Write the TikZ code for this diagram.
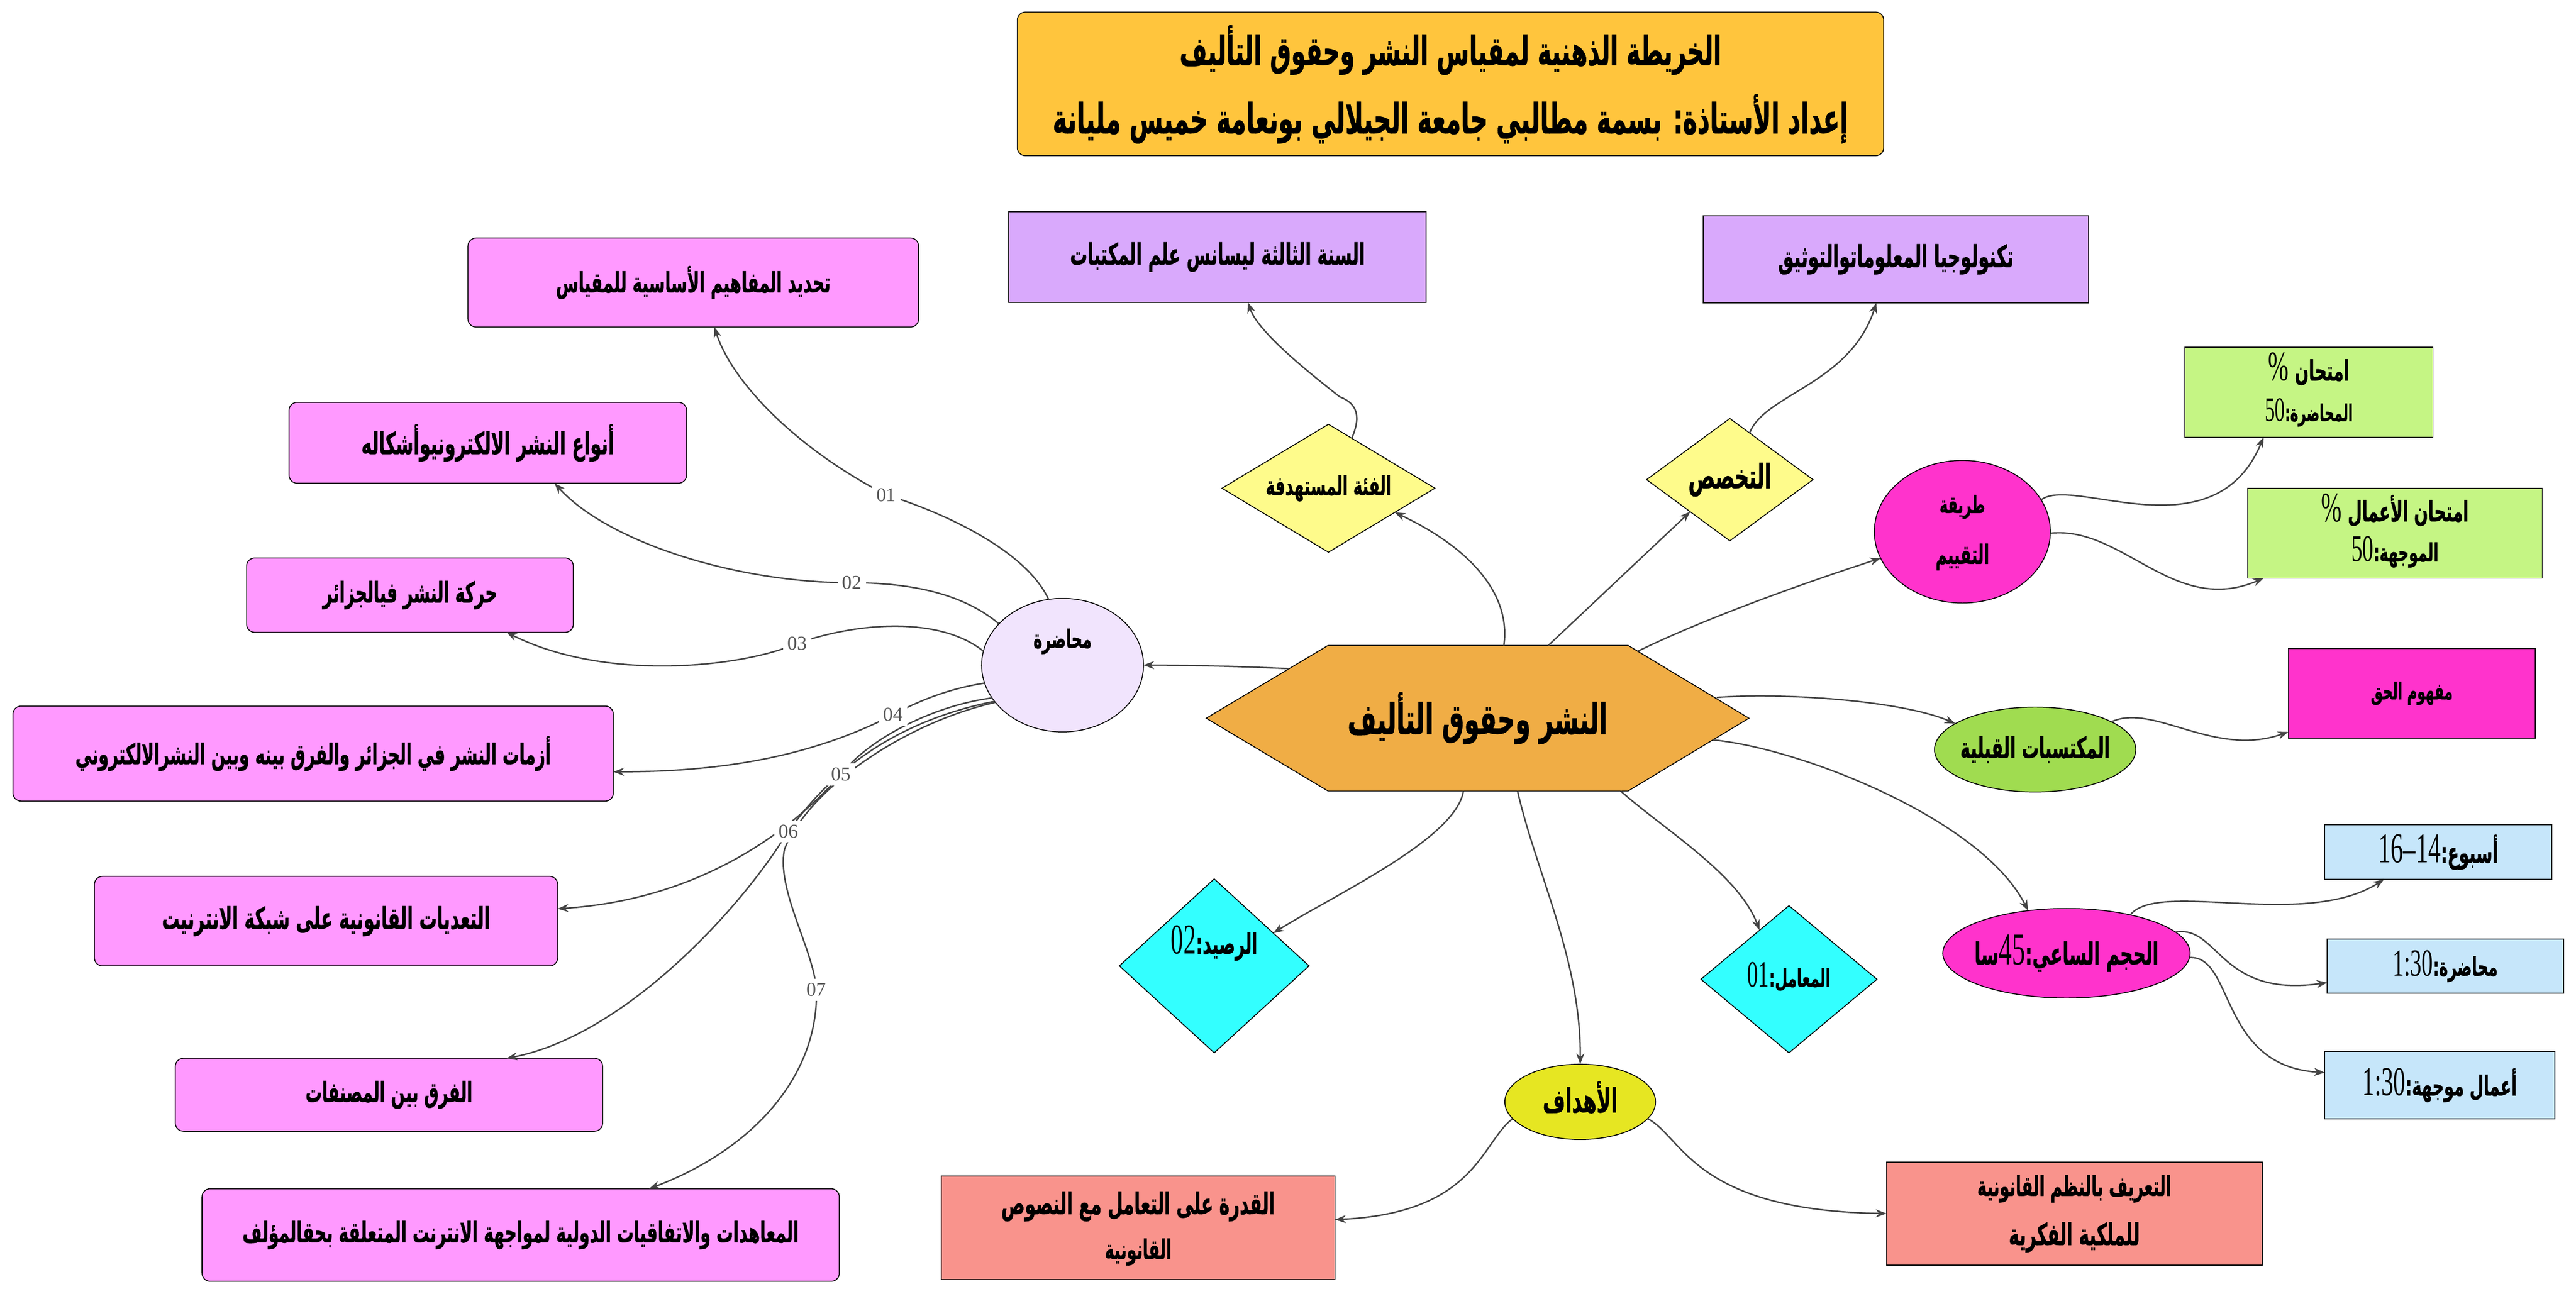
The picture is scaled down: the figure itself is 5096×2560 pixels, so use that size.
\documentclass[tikz,border=0pt]{standalone}
\usepackage{fontspec}
\usepackage{graphicx}
\TeXXeTstate=1
\newfontfamily\arfb[Script=Arabic,FakeBold=1.2]{DejaVu Sans Bold}
\newfontfamily\lat{Liberation Serif}
\usetikzlibrary{shapes.geometric,arrows.meta,backgrounds}
\definecolor{cTitle}{HTML}{FFC53D}
\definecolor{cPink}{HTML}{FF99FF}
\definecolor{cLav}{HTML}{F1E4FD}
\definecolor{cPurp}{HTML}{D9A9FC}
\definecolor{cYel}{HTML}{FEFB8B}
\definecolor{cHex}{HTML}{F0AD45}
\definecolor{cMag}{HTML}{FF33CC}
\definecolor{cGreen}{HTML}{A0DC50}
\definecolor{cLime}{HTML}{C5F584}
\definecolor{cBlue}{HTML}{C6E6FA}
\definecolor{cCyan}{HTML}{33FFFF}
\definecolor{cGold}{HTML}{E6E622}
\definecolor{cSalm}{HTML}{F9938C}
\definecolor{cEdge}{HTML}{444444}
\definecolor{cLab}{HTML}{555555}
\newcommand\AR[2]{\scalebox{1}[1.7]{\resizebox{#1}{!}{\arfb #2}}}
\newcommand\NUM[1]{\beginL\scalebox{1.5}{\lat #1}\endL}
\begin{document}
\begin{tikzpicture}[x=0.01cm,y=-0.01cm,
  base/.style={draw=black,line width=0.5pt,inner sep=0pt,outer sep=0pt},
  pinkbox/.style={base,rectangle,rounded corners=0.16cm,fill=cPink},
  sqbox/.style={base,rectangle},
  edge/.style={draw=cEdge,line width=0.8pt,-{Stealth[length=6pt,width=4.5pt]}},
  lab/.style={fill=white,inner sep=2.5pt,text=cLab,font={\lat\fontsize{11}{13}\selectfont}}]
\useasboundingbox (0,0) rectangle (5096,2560);

% central hexagon
\node[inner sep=0pt,outer sep=0pt,minimum width=10.73cm,minimum height=2.88cm] (hex) at (2923,1421) {\AR{5.14cm}{\beginR النشر وحقوق التأليف\endR}};
\begin{scope}[on background layer]
\fill[white] (0,0) rectangle (5096,2560);
\draw[line width=0.5pt,fill=cHex] (hex.west) -- ([xshift=2.41cm]hex.north west) -- ([xshift=-2.39cm]hex.north east) -- (hex.east) -- ([xshift=-2.39cm]hex.south east) -- ([xshift=2.41cm]hex.south west) -- cycle;
\end{scope}

% title
\node[base,rectangle,rounded corners=0.16cm,fill=cTitle,minimum width=17.13cm,minimum height=2.84cm,
  label={[yshift=0.67cm]center:{\AR{10.71cm}{\beginR الخريطة الذهنية لمقياس النشر وحقوق التأليف\endR}}},
  label={[yshift=-0.69cm]center:{\AR{15.73cm}{\beginR إعداد الأستاذة: بسمة مطالبي جامعة الجيلالي بونعامة خميس مليانة\endR}}}] (title) at (2869.5,166) {};

% left boxes
\node[pinkbox,minimum width=8.91cm,minimum height=1.76cm] (b1) at (1371.5,559) {\AR{5.43cm}{\beginR تحديد المفاهيم الأساسية للمقياس\endR}};
\node[pinkbox,minimum width=7.86cm,minimum height=1.60cm] (b2) at (965,876) {\AR{5.00cm}{\beginR أنواع النشر الالكترونيوأشكاله\endR}};
\node[pinkbox,minimum width=6.46cm,minimum height=1.47cm] (b3) at (811,1177.5) {\AR{3.45cm}{\beginR حركة النشر فيالجزائر\endR}};
\node[pinkbox,minimum width=11.87cm,minimum height=1.88cm] (b4) at (619.5,1491) {\AR{9.40cm}{\beginR أزمات النشر في الجزائر والفرق بينه وبين النشرالالكتروني\endR}};
\node[pinkbox,minimum width=9.16cm,minimum height=1.77cm] (b5) at (645,1822.5) {\AR{6.49cm}{\beginR التعديات القانونية على شبكة الانترنيت\endR}};
\node[pinkbox,minimum width=8.45cm,minimum height=1.44cm] (b6) at (769.5,2166) {\AR{3.30cm}{\beginR الفرق بين المصنفات\endR}};
\node[pinkbox,minimum width=12.60cm,minimum height=1.83cm] (b7) at (1030,2443.5) {\AR{11.00cm}{\beginR المعاهدات والاتفاقيات الدولية لمواجهة الانترنت المتعلقة بحقالمؤلف\endR}};

\node[base,ellipse,fill=cLav,minimum width=3.20cm,minimum height=2.64cm,
  label={[yshift=0.47cm]center:{\AR{1.15cm}{\beginR محاضرة\endR}}}] (muh) at (2102,1316) {};

% top
\node[sqbox,fill=cPurp,minimum width=8.25cm,minimum height=1.79cm] (sana) at (2408.5,508.5) {\AR{5.83cm}{\beginR السنة الثالثة ليسانس علم المكتبات\endR}};
\node[sqbox,fill=cPurp,minimum width=7.61cm,minimum height=1.72cm] (tech) at (3750.5,513) {\AR{4.66cm}{\beginR تكنولوجيا المعلوماتوالتوثيق\endR}};
\node[base,diamond,fill=cYel,minimum width=4.21cm,minimum height=2.53cm,
  label={center:{\AR{2.48cm}{\beginR الفئة المستهدفة\endR}}}] (fia) at (2628,966) {};
\node[base,diamond,fill=cYel,minimum width=3.29cm,minimum height=2.42cm,
  label={center:{\AR{1.64cm}{\beginR التخصص\endR}}}] (tak) at (3422,949) {};

% right
\node[base,ellipse,fill=cMag,minimum width=3.48cm,minimum height=2.82cm,
  label={[yshift=0.49cm]center:{\AR{0.90cm}{\beginR طريقة\endR}}},
  label={[yshift=-0.50cm]center:{\AR{1.06cm}{\beginR التقييم\endR}}}] (tar) at (3882,1052) {};
\node[sqbox,fill=cLime,minimum width=4.91cm,minimum height=1.78cm,
  label={[yshift=0.46cm]center:{\AR{1.60cm}{\beginR امتحان \NUM{\%}\endR}}},
  label={[yshift=-0.40cm]center:{\AR{1.74cm}{\beginR المحاضرة:\NUM{50}\endR}}}] (imt1) at (4567.5,776) {};
\node[sqbox,fill=cLime,minimum width=5.82cm,minimum height=1.78cm,
  label={[yshift=0.46cm]center:{\AR{2.91cm}{\beginR امتحان الأعمال \NUM{\%}\endR}}},
  label={[yshift=-0.37cm]center:{\AR{1.72cm}{\beginR الموجهة:\NUM{50}\endR}}}] (imt2) at (4738,1055) {};
\node[base,ellipse,fill=cGreen,minimum width=3.98cm,minimum height=1.68cm,
  label={center:{\AR{2.96cm}{\beginR المكتسبات القبلية\endR}}}] (muk) at (4026,1483) {};
\node[sqbox,fill=cMag,minimum width=4.88cm,minimum height=1.78cm] (maf) at (4771,1372) {\AR{1.62cm}{\beginR مفهوم الحق\endR}};
\node[base,ellipse,fill=cMag,minimum width=4.89cm,minimum height=1.77cm,
  label={center:{\AR{3.64cm}{\beginR الحجم الساعي:\NUM{45}سا\endR}}}] (haj) at (4088,1886) {};
\node[sqbox,fill=cBlue,minimum width=4.49cm,minimum height=1.08cm] (usbu) at (4823.5,1686) {\AR{2.37cm}{\beginR أسبوع:\NUM{16–14}\endR}};
\node[sqbox,fill=cBlue,minimum width=4.67cm,minimum height=1.07cm] (m130) at (4837.5,1911.5) {\AR{2.07cm}{\beginR محاضرة:\NUM{1:30}\endR}};
\node[sqbox,fill=cBlue,minimum width=4.55cm,minimum height=1.34cm] (amal) at (4826.5,2147) {\AR{3.05cm}{\beginR أعمال موجهة:\NUM{1:30}\endR}};

% bottom
\node[base,diamond,fill=cCyan,minimum width=3.75cm,minimum height=3.44cm,
  label={[yshift=0.45cm]center:{\AR{1.71cm}{\beginR الرصيد:\NUM{02}\endR}}}] (ras) at (2402,1911) {};
\node[base,diamond,fill=cCyan,minimum width=3.48cm,minimum height=2.91cm,
  label={[yshift=0.05cm]center:{\AR{1.64cm}{\beginR المعامل:\NUM{01}\endR}}}] (mua) at (3539,1937.5) {};
\node[base,ellipse,fill=cGold,minimum width=2.98cm,minimum height=1.49cm,
  label={[yshift=0.09cm]center:{\AR{1.48cm}{\beginR الأهداف\endR}}}] (ahd) at (3126,2180) {};
\node[sqbox,fill=cSalm,minimum width=7.79cm,minimum height=2.04cm,
  label={[yshift=0.42cm]center:{\AR{5.41cm}{\beginR القدرة على التعامل مع النصوص\endR}}},
  label={[yshift=-0.48cm]center:{\AR{1.32cm}{\beginR القانونية\endR}}}] (qud) at (2251.5,2429) {};
\node[sqbox,fill=cSalm,minimum width=7.43cm,minimum height=2.04cm,
  label={[yshift=0.49cm]center:{\AR{3.84cm}{\beginR التعريف بالنظم القانونية\endR}}},
  label={[yshift=-0.47cm]center:{\AR{2.59cm}{\beginR للملكية الفكرية\endR}}}] (tarf) at (4103.5,2401) {};

% label points
\coordinate (c1) at (1753,979);
\coordinate (c2) at (1685,1153);
\coordinate (c3) at (1577,1273);
\coordinate (c4) at (1767,1414);
\coordinate (c5) at (1664,1532);
\coordinate (c6) at (1560,1645);
\coordinate (c7) at (1615,1958);

% muhadara edges
\draw[edge] (muh.102) .. controls (2030,1090) and (1870,1015) .. (c1) .. controls (1580,890) and (1450,760) .. ([xshift=0.415cm]b1.south);
\draw[edge] (muh.147) .. controls (1900,1170) and (1790,1153) .. (c2) .. controls (1450,1153) and (1200,1070) .. ([xshift=1.32cm]b2.south);
\draw[edge] (muh.170) .. controls (1860,1220) and (1700,1230) .. (c3) .. controls (1470,1320) and (1200,1350) .. ([xshift=1.91cm]b3.south);
\draw[edge] (muh.193) .. controls (1880,1362) and (1820,1385) .. (c4) .. controls (1600,1500) and (1420,1527) .. ([yshift=-0.36cm]b4.east);
\draw[edge] (muh.205) .. controls (1850,1395) and (1720,1460) .. (c5) .. controls (1560,1650) and (1380,1780) .. ([yshift=0.245cm]b5.east);
\draw[edge] (muh.208) .. controls (1780,1425) and (1640,1520) .. (1545,1667) .. controls (1452,1811) and (1230,2050) .. ([xshift=2.325cm]b6.north);
\draw[edge] (muh.209) .. controls (1790,1430) and (1600,1560) .. (1552,1680) .. controls (1535,1760) and (1610,1880) .. (c7) .. controls (1620,2120) and (1500,2270) .. ([xshift=2.54cm]b7.north);

% hexagon edges
\draw[edge] ([shift={(-373,-98)}]hex.center) .. controls (2450,1318) and (2340,1316) .. (muh.east);
\draw[edge] ([xshift=0.52cm]hex.north) .. controls (2990,1170) and (2900,1080) .. (fia.-20);
\draw[edge] (fia.65) .. controls (2690,830) and (2690,800) .. (2650,785) .. controls (2600,745) and (2490,660) .. ([xshift=0.6cm]sana.south);
\draw[edge] ([xshift=1.4cm]hex.north) -- (tak.-141);
\draw[edge] (tak.67) .. controls (3490,780) and (3660,760) .. ([xshift=-0.385cm]tech.south);
\draw[edge] ([shift={(316,-132)}]hex.center) .. controls (3390,1215) and (3610,1140) .. (tar.198);
\draw[edge] ([shift={(473,-41)}]hex.center) .. controls (3520,1370) and (3760,1385) .. (muk.162);
\draw[edge] ([shift={(466,43)}]hex.center) .. controls (3560,1480) and (3920,1620) .. (haj.132);
\draw[edge] ([xshift=0.79cm]hex.south) .. controls (3040,1730) and (3128,1900) .. (ahd.north);
\draw[edge] ([xshift=-0.28cm]hex.south) .. controls (2880,1660) and (2640,1770) .. (ras.29);
\draw[edge] ([xshift=2.83cm]hex.south) .. controls (3290,1640) and (3440,1730) .. (mua.121);

% right edges
\draw[edge] (tar.22) .. controls (4100,940) and (4380,1100) .. ([xshift=-0.895cm]imt1.south);
\draw[edge] (tar.-1) .. controls (4200,1040) and (4300,1220) .. ([xshift=0.31cm]imt2.south west);
\draw[edge] (muk.20) .. controls (4260,1390) and (4380,1500) .. ([yshift=0.13cm]maf.south west);
\draw[edge] (haj.31) .. controls (4270,1740) and (4560,1840) .. ([xshift=-1.075cm]usbu.south);
\draw[edge] (haj.11) .. controls (4390,1830) and (4390,1975) .. ([yshift=-0.325cm]m130.west);
\draw[edge] (haj.-2) .. controls (4420,1890) and (4390,2110) .. ([yshift=0.25cm]amal.west);
\draw[edge] (ahd.194) .. controls (2930,2260) and (2920,2400) .. ([yshift=0.16cm]qud.east);
\draw[edge] (ahd.-14) .. controls (3330,2250) and (3350,2395) .. (tarf.west);

% edge labels
\node[lab] (l1) at (c1) {01};
\node[lab] (l2) at (c2) {02};
\node[lab] (l3) at (c3) {03};
\node[lab] (l4) at (c4) {04};
\node[lab] (l5) at (c5) {05};
\node[lab] (l6) at (c6) {06};
\node[lab] (l7) at (c7) {07};
\end{tikzpicture}
\end{document}
